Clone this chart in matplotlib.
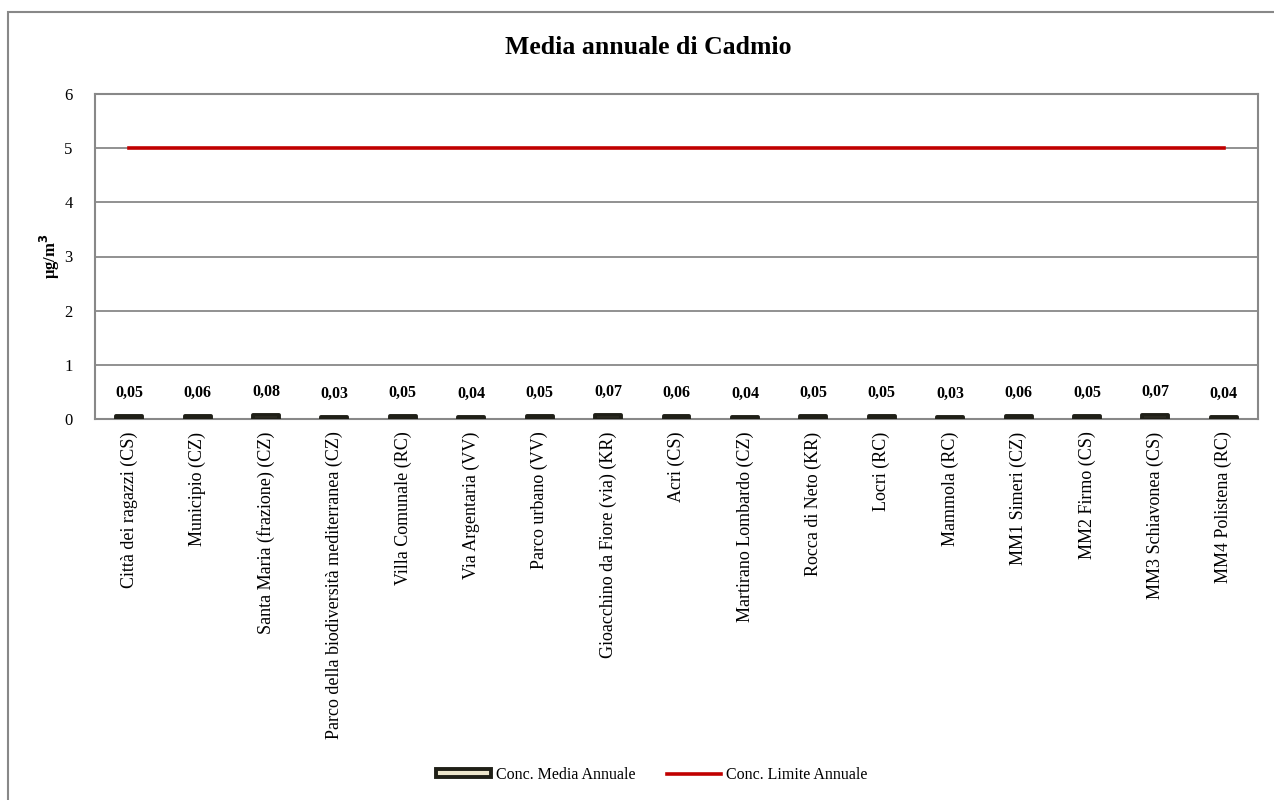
import matplotlib.pyplot as plt
from matplotlib.patches import Rectangle, Patch
from matplotlib.lines import Line2D

stations = ["Città dei ragazzi (CS)", "Municipio (CZ)", "Santa Maria (frazione) (CZ)",
            "Parco della biodiversità mediterranea (CZ)", "Villa Comunale (RC)",
            "Via Argentaria (VV)", "Parco urbano (VV)", "Gioacchino da Fiore (via) (KR)",
            "Acri (CS)", "Martirano Lombardo (CZ)", "Rocca di Neto (KR)", "Locri (RC)",
            "Mammola (RC)", "MM1 Simeri (CZ)", "MM2 Firmo (CS)", "MM3 Schiavonea (CS)",
            "MM4 Polistena (RC)"]
media = [0.05, 0.06, 0.08, 0.03, 0.05, 0.04, 0.05, 0.07, 0.06, 0.04, 0.05, 0.05,
         0.03, 0.06, 0.05, 0.07, 0.04]
limite = [5] * len(stations)

plt.rcParams['font.family'] = ['Liberation Serif', 'DejaVu Serif']

fig = plt.figure(figsize=(12.74, 8), dpi=100)
ax = fig.add_axes([95 / 1274, 1 - 419 / 800, (1258 - 95) / 1274, (419 - 94) / 800])

# outer frame of the chart area
fig.patches.append(Rectangle((8 / 1274, -0.1), 1.2, 1.1 - 12 / 800,
                             transform=fig.transFigure, fill=False,
                             edgecolor='#888888', linewidth=1.5))

x = list(range(len(stations)))
ax.bar(x, media, width=0.38, color='#EDE6CC', edgecolor='#1f1f17', linewidth=2.8,
       joinstyle='round', zorder=3)
ax.plot(x, limite, color='#C00000', linewidth=2.6, zorder=4)

for xi, v in zip(x, media):
    ax.annotate(f"{v:.2f}".replace('.', ','), (xi, v), xytext=(0, 11),
                textcoords='offset points', ha='center', va='bottom',
                fontsize=11.5, fontweight='bold')

ax.set_xlim(-0.5, len(stations) - 0.5)
ax.set_ylim(0, 6)
ax.set_yticks(range(7))
ax.yaxis.grid(True, color='#888888', linewidth=1.3)
ax.set_axisbelow(True)
for s in ax.spines.values():
    s.set_color('#888888')
    s.set_linewidth(1.5)
ax.tick_params(axis='y', length=0, labelsize=12, pad=16)
ax.tick_params(axis='x', length=0, labelsize=13, pad=9)
ax.set_xticks(x)
ax.set_xticklabels(stations, rotation=90, va='top')
ax.set_ylabel('µg/m$^\\mathbf{3}$', fontsize=12, fontweight='bold')
ax.yaxis.set_label_coords(-0.028, 0.5)

fig.text(648 / 1274, 1 - 48 / 800, 'Media annuale di Cadmio', ha='center', va='center',
         fontsize=18.5, fontweight='bold')

handles = [Patch(facecolor='#EDE6CC', edgecolor='#1f1f17', linewidth=2.8),
           Line2D([0], [0], color='#C00000', linewidth=2.6)]
fig.legend(handles, ['Conc. Media Annuale', 'Conc. Limite Annuale'],
           loc='center', bbox_to_anchor=(652 / 1274, 1 - 775 / 800), ncol=2,
           frameon=False, fontsize=11.5, handlelength=3.4, handleheight=0.4,
           columnspacing=2.0, handletextpad=0.3)

fig.savefig('out.png', dpi=100)
